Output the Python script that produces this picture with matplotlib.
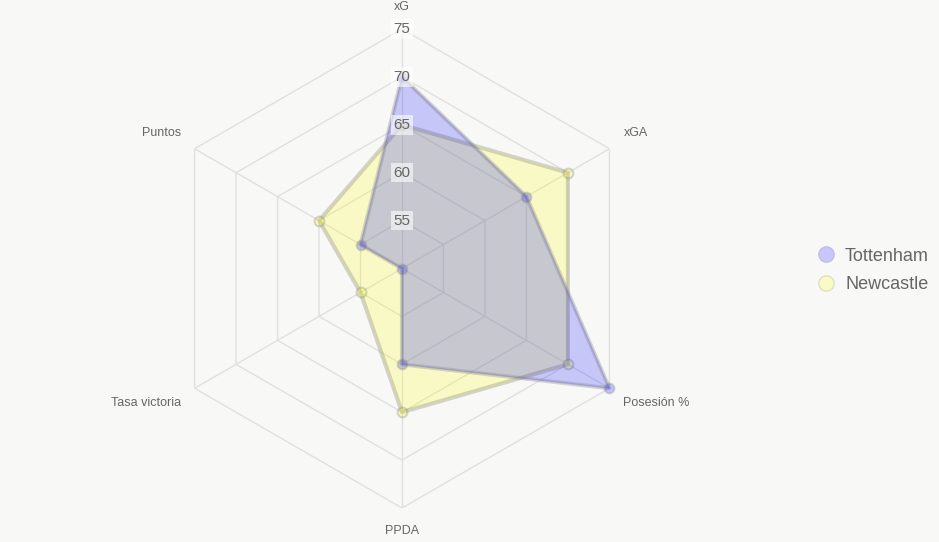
import numpy as np
import matplotlib.pyplot as plt
from matplotlib.lines import Line2D

# datos del radar
ejes = ['xG', 'xGA', 'Posesión %', 'PPDA', 'Tasa victoria', 'Puntos']
tottenham = [70, 65, 75, 60, 50, 55]
newcastle = [65, 70, 70, 65, 55, 60]
ticks = [55, 60, 65, 70, 75]
r_min, r_max = 50, 75

fondo = '#f8f8f7'
rejilla = '#e0e0e0'
texto = '#666666'
azul = (0, 0, 1, 0.2)
amarillo = (1, 1, 0, 0.2)
borde = (0.55, 0.55, 0.55, 0.35)

plt.rcParams['font.family'] = ['Liberation Sans', 'DejaVu Sans']

fig = plt.figure(figsize=(9.39, 5.42), dpi=100, facecolor=fondo)
ax = fig.add_axes([162.5 / 939, 34 / 542, 479 / 939, 479 / 542], projection='polar')
ax.set_facecolor(fondo)
ax.set_theta_zero_location('N')
ax.set_theta_direction(-1)
ax.set_ylim(r_min, r_max)
ax.grid(False)
ax.spines['polar'].set_visible(False)
ax.set_xticks([])
ax.set_yticks([])

n = len(ejes)
ang = np.arange(n) * 2 * np.pi / n
ang_c = np.append(ang, ang[0])

# rejilla hexagonal
for t in ticks:
    ax.plot(ang_c, [t] * (n + 1), color=rejilla, lw=1, zorder=1)
for a in ang:
    ax.plot([a, a], [r_min, r_max], color=rejilla, lw=1, zorder=1)

# series (Newcastle debajo, Tottenham encima)
for vals, col, z in [(newcastle, amarillo, 3), (tottenham, azul, 4)]:
    v = np.append(vals, vals[0])
    ax.fill(ang_c, v, color=col, zorder=z, clip_on=False)
    ax.plot(ang_c, v, color=borde, lw=3, zorder=z, solid_joinstyle='round', clip_on=False)
    ax.plot(ang, vals, 'o', ms=7, mfc=col, mec=borde, mew=1.5, zorder=z + 0.5, clip_on=False)

# etiquetas de los ticks
for t in ticks:
    ax.text(0, t, str(t), ha='center', va='center', fontsize=11, color=texto, zorder=6,
            bbox=dict(boxstyle='square,pad=0.18', fc=(1, 1, 1, 0.6), ec='none'))

# etiquetas de los ejes
offs = [(0, 22, 'center'), (14, 16, 'left'), (14, -15, 'left'),
        (0, -23, 'center'), (-13, -15, 'right'), (-13, 16, 'right')]
for a, lab, (dx, dy, ha) in zip(ang, ejes, offs):
    ax.annotate(lab, (a, r_max), xytext=(dx, dy), textcoords='offset pixels',
                ha=ha, va='center', fontsize=9, color=texto, annotation_clip=False)

# leyenda
handles = [Line2D([], [], ls='none', marker='o', ms=11, mfc=(0.78, 0.78, 0.98), mec=(0.75, 0.75, 0.9), mew=1),
           Line2D([], [], ls='none', marker='o', ms=11, mfc=(0.98, 0.98, 0.78), mec=(0.88, 0.88, 0.75), mew=1)]
fig.legend(handles, ['Tottenham', 'Newcastle'], loc='center left', bbox_to_anchor=(799 / 939, 271.5 / 542),
           frameon=False, fontsize=13, labelcolor=texto, handletextpad=0.45, labelspacing=0.65,
           handlelength=1.2)

fig.savefig('out.png', dpi=100, facecolor=fondo)
